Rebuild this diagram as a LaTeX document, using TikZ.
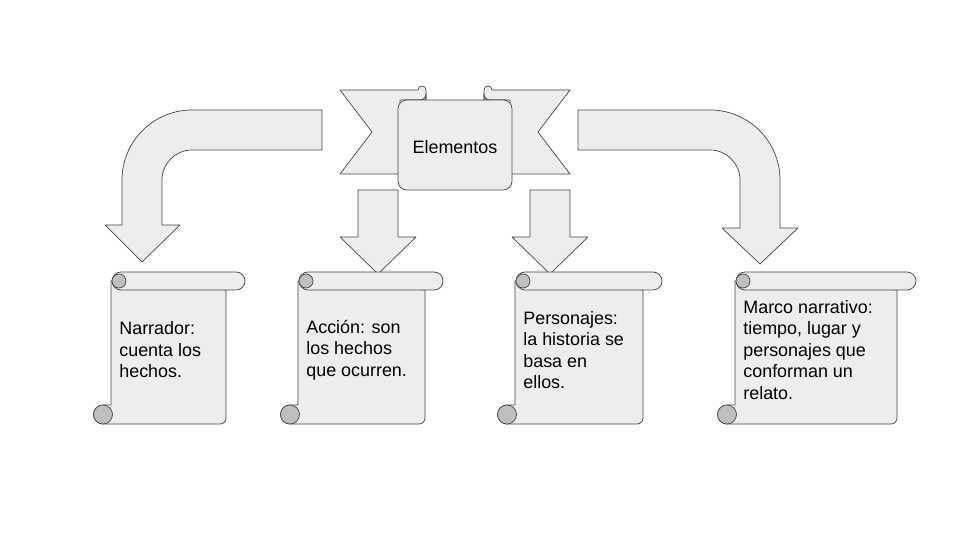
\documentclass[tikz,border=0pt]{standalone}
\usepackage{fontspec}
\setmainfont{Liberation Sans}
\usetikzlibrary{positioning}
\colorlet{hoja}{gray!14}
\colorlet{rollo}{gray!50}
\colorlet{borde}{gray!55!black}
% #1 = left of body, #2 = right of body, #3 = right end of top bar, #4 = name, #5 = text
\newcommand*{\pergamino}[5]{%
   \filldraw[forma] (#1,281) -- (#1,405) -- (#1-8,405) arc[start angle=-90, delta angle=-180, radius=9.5]
      -- (#2-6,424) arc[start angle=90, delta angle=-90, radius=6] -- (#2,290) -- cycle;
   \filldraw[forma, fill=rollo] (#1-8,414.5) circle[radius=9.5];
   \filldraw[forma] (#1+10,272) -- (#3-9,272) arc[start angle=-90, delta angle=180, radius=9] -- (#1+10,290)
      arc[start angle=90, delta angle=180, radius=9] -- cycle;
   \filldraw[forma, fill=rollo] (#1+8,281) circle[radius=7];
   \node[texto, anchor=west] (#4) at (#1+8,350) {#5};
}
\begin{document}
\begin{tikzpicture}[
		x=0.02cm,
		y=-0.02cm,
		thin
	]
		\tikzset{
			forma/.style={draw=borde, fill=hoja, line join=round},
			texto/.style={align=left, inner sep=0pt, font=\fontsize{10.2}{12.2}\selectfont}
		}
		\useasboundingbox (0,0) rectangle (960,540);

		% bent arrows
		\filldraw[forma] (322,110) -- (192,110) arc[start angle=-90, delta angle=-90, radius=70] -- (122,225)
			-- (105,225) -- (142,262) -- (180,225) -- (162,225) -- (162,180)
			arc[start angle=180, delta angle=90, radius=30] -- (322,150) -- cycle;
		\filldraw[forma] (578,110) -- (710,110) arc[start angle=-90, delta angle=90, radius=70] -- (780,228)
			-- (798,228) -- (760,264) -- (722,228) -- (740,228) -- (740,180)
			arc[start angle=0, delta angle=-90, radius=30] -- (578,150) -- cycle;
		% straight arrows
		\foreach \mx in {378,550}
			\filldraw[forma] (\mx-20,190) -- (\mx+20,190) -- (\mx+20,237) -- (\mx+38,237) -- (\mx,274)
				-- (\mx-38,237) -- (\mx-20,237) -- cycle;

		% banner
		\filldraw[forma] (400,174) -- (340,174) -- (372,132) -- (340,90) -- (418,90)
			arc[start angle=180, delta angle=180, radius=4] -- (426,100) -- (400,100) -- cycle;
		\filldraw[forma] (510,174) -- (570,174) -- (538,132) -- (570,90) -- (492,90)
			arc[start angle=0, delta angle=-180, radius=4] -- (484,100) -- (510,100) -- cycle;
		\filldraw[forma, fill=rollo] (405,100) -- (426,100) -- (426,94) arc[start angle=0, delta angle=90, radius=6] -- cycle;
		\filldraw[forma, fill=rollo] (505,100) -- (484,100) -- (484,94) arc[start angle=180, delta angle=-90, radius=6] -- cycle;
		\filldraw[forma, rounded corners=5] (398,100) rectangle (512,190);
		\node[texto] (elementos) at (455,147) {Elementos};

		\pergamino{111}{226}{245}{narrador}{Narrador:\\cuenta los\\hechos.}
		\pergamino{298}{425}{443}{accion}{Acción: son\\los hechos\\que ocurren.}
		\pergamino{515}{643}{662}{personajes}{Personajes:\\la historia se\\basa en\\ellos.}
		\pergamino{735}{897}{916}{marco}{Marco narrativo:\\tiempo, lugar y\\personajes que\\conforman un\\relato.}
	\end{tikzpicture}
\end{document}
